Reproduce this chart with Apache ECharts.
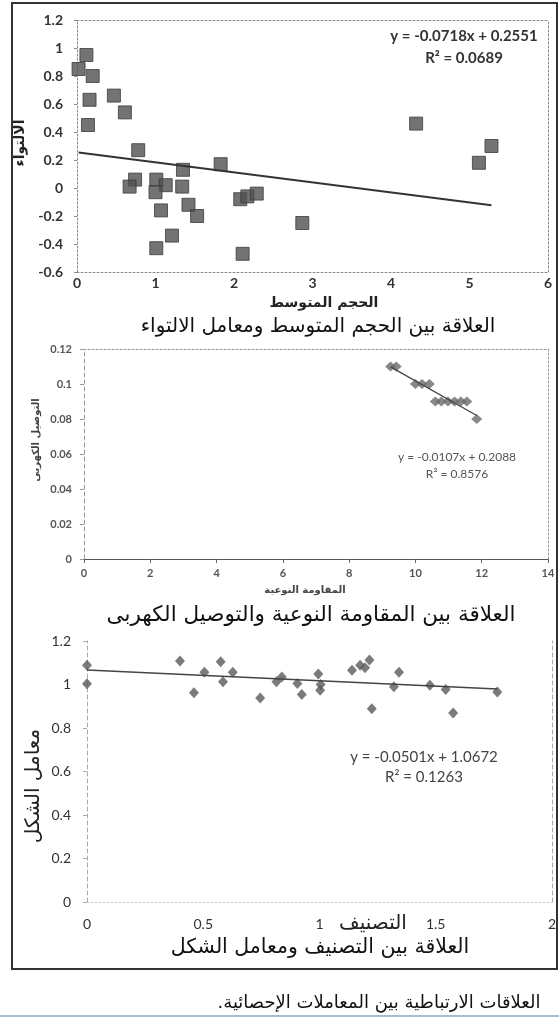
<!DOCTYPE html>
<html>
<head>
<meta charset="utf-8">
<script src="https://cdn.jsdelivr.net/npm/echarts@6/dist/echarts.min.js"></script>
<style>
html,body{margin:0;padding:0;background:#fff;}
#c{width:559px;height:1024px;}
</style>
</head>
<body>
<div id="c"></div>
<script>
// ---------- data ----------
// Chart 1: mean size vs skewness
const sizeX = [0.02,0.12,0.20,0.16,0.14,0.47,0.61,0.78,0.74,0.67,1.01,1.13,1.00,1.35,1.34,1.07,1.42,1.53,1.21,1.01,1.83,2.08,2.17,2.29,2.11,2.87,4.32,5.12,5.28];
const skewY = [0.85,0.95,0.80,0.63,0.45,0.66,0.54,0.27,0.06,0.01,0.06,0.02,-0.03,0.13,0.01,-0.16,-0.12,-0.20,-0.34,-0.43,0.17,-0.08,-0.06,-0.04,-0.47,-0.25,0.46,0.18,0.30];
const trend1X = [0.02,5.28];
const trend1Y = [0.254,-0.124];
const eq1 = ["y = -0.0718x + 0.2551","R\u00B2 = 0.0689"];

// Chart 2: resistivity vs conductivity
const resX  = [9.25,9.42,10.0,10.2,10.42,10.6,10.78,10.98,11.18,11.37,11.55,11.85];
const condY = [0.11,0.11,0.10,0.10,0.10,0.09,0.09,0.09,0.09,0.09,0.09,0.08];
const trend2X = [9.25,11.85];
const trend2Y = [0.1098,0.0820];
const eq2 = ["y = -0.0107x + 0.2088","R\u00B2 = 0.8576"];

// Chart 3: sorting vs shape factor
const sortX  = [0,0,0.40,0.46,0.505,0.575,0.585,0.627,0.745,0.815,0.838,0.905,0.924,0.995,1.003,1.005,1.14,1.175,1.196,1.215,1.225,1.32,1.342,1.475,1.543,1.575,1.765];
const shapeY = [1.088,1.004,1.108,0.962,1.056,1.105,1.013,1.056,0.938,1.013,1.035,1.005,0.954,1.048,0.973,1.0,1.066,1.088,1.077,1.113,0.888,0.99,1.056,0.996,0.977,0.869,0.966];
const trend3X = [0,1.765];
const trend3Y = [1.067,0.979];
const eq3 = ["y = -0.0501x + 1.0672","R\u00B2 = 0.1263"];

// tick settings
const ticks1 = {xMin:0,xMax:6,xStep:1,yMin:-0.6,yMax:1.2,yStep:0.2};
const ticks2 = {xMin:0,xMax:14,xStep:2,yMin:0,yMax:0.12,yStep:0.02};
const ticks3 = {xMin:0,xMax:2,xStep:0.5,yMin:0,yMax:1.2,yStep:0.2};

// texts
const sub1 = "العلاقة بين الحجم المتوسط ومعامل الالتواء";
const sub2 = "العلاقة بين المقاومة النوعية والتوصيل الكهربى";
const sub3 = "العلاقة بين التصنيف ومعامل الشكل";
const caption = "العلاقات الارتباطية بين المعاملات الإحصائية.";
const xName1 = "الحجم المتوسط", yName1 = "الالتواء";
const xName2 = "المقاومة النوعية", yName2 = "التوصيل الكهربى";
const xName3 = "التصنيف", yName3 = "معامل الشكل";

// ---------- helpers ----------
const zip = (a,b) => a.map((v,i)=>[v,b[i]]);
const rtl = s => "\u202B" + s + "\u202C";
const AR = "'DejaVu Sans', sans-serif";
const LAT = "Lato, 'Liberation Sans', sans-serif";

const grids = [
  {left:77, top:20,  width:471, height:252},
  {left:84, top:349, width:464, height:210},
  {left:87, top:641, width:465, height:261}
];

function mainX(gi,t,lbl,line,tick,margin){
  return {type:'value',gridIndex:gi,position:'bottom',min:t.xMin,max:t.xMax,interval:t.xStep,
    axisLine:line,axisTick:tick,splitLine:{show:false},
    axisLabel:Object.assign({margin:margin,fontFamily:LAT},lbl)};
}
function mainY(gi,t,lbl,line,tick,margin){
  return {type:'value',gridIndex:gi,position:'left',min:t.yMin,max:t.yMax,interval:t.yStep,
    axisLine:line,axisTick:tick,splitLine:{show:false},
    axisLabel:Object.assign({margin:margin,fontFamily:LAT},lbl)};
}
function borderX(gi,t,line){
  return {type:'value',gridIndex:gi,position:'top',min:t.xMin,max:t.xMax,interval:t.xStep,
    axisLine:line,axisTick:{show:false},axisLabel:{show:false},splitLine:{show:false}};
}
function borderY(gi,t,line){
  return {type:'value',gridIndex:gi,position:'right',min:t.yMin,max:t.yMax,interval:t.yStep,
    axisLine:line,axisTick:{show:false},axisLabel:{show:false},splitLine:{show:false}};
}
const dotted = (c,w)=>({show:true,onZero:false,lineStyle:{color:c,width:w||1,type:[2,2]}});
const dashed = (c,w)=>({show:true,onZero:false,lineStyle:{color:c,width:w||1,type:[4,3]}});

function txt(text,x,y,font,fill,align,rot){
  const el = {type:'text',x:x,y:y,silent:true,z:10,
    style:{text:text,font:font,fill:fill||'#222',textAlign:align||'center',textVerticalAlign:'middle'}};
  if(rot) el.rotation = rot;
  return el;
}

const chart = echarts.init(document.getElementById('c'),null,{renderer:'canvas'});

const option = {
  animation:false,
  backgroundColor:'#ffffff',
  grid: grids,
  xAxis: [
    mainX(0,ticks1,{fontSize:14,fontWeight:'bold',color:'#333'},dotted('#8a8a8a'),{show:false},4),
    mainX(1,ticks2,{fontSize:11,fontWeight:'bold',color:'#555'},{show:true,onZero:false,lineStyle:{color:'#555',width:1.2}},{show:true,length:4,lineStyle:{color:'#666'}},9),
    mainX(2,ticks3,{fontSize:14,color:'#333'},dotted('#cfcfcf'),{show:false},15),
    borderX(0,ticks1,dotted('#8a8a8a')),
    borderX(1,ticks2,dotted('#999')),
    borderX(2,ticks3,{show:false})
  ],
  yAxis: [
    mainY(0,ticks1,{fontSize:14,fontWeight:'bold',color:'#333'},dotted('#8a8a8a'),{show:true,length:3,lineStyle:{color:'#888'}},14),
    mainY(1,ticks2,{fontSize:11,fontWeight:'bold',color:'#555'},dashed('#9a9a9a'),{show:true,length:4,lineStyle:{color:'#999'}},12),
    mainY(2,ticks3,{fontSize:14,color:'#333'},dashed('#a8a8a8'),{show:true,length:4,lineStyle:{color:'#aaa'}},16),
    borderY(0,ticks1,dotted('#8a8a8a')),
    borderY(1,ticks2,dotted('#999')),
    borderY(2,ticks3,dashed('#aaa'))
  ],
  series: [
    {type:'line',xAxisIndex:0,yAxisIndex:0,data:zip(trend1X,trend1Y),symbol:'none',lineStyle:{color:'#333',width:2},z:3},
    {type:'scatter',xAxisIndex:0,yAxisIndex:0,data:zip(sizeX,skewY),symbol:'rect',symbolSize:13,
      itemStyle:{color:'#505050',borderColor:'#3c3c3c',borderWidth:1},z:2},
    {type:'line',xAxisIndex:1,yAxisIndex:1,data:zip(trend2X,trend2Y),symbol:'none',lineStyle:{color:'#444',width:1.3},z:3},
    {type:'scatter',xAxisIndex:1,yAxisIndex:1,data:zip(resX,condY),symbol:'diamond',symbolSize:[11,10],
      itemStyle:{color:'#6a6a6a'},z:2},
    {type:'line',xAxisIndex:2,yAxisIndex:2,data:zip(trend3X,trend3Y),symbol:'none',lineStyle:{color:'#444',width:1.5},z:3},
    {type:'scatter',xAxisIndex:2,yAxisIndex:2,data:zip(sortX,shapeY),symbol:'diamond',symbolSize:[10,11],
      itemStyle:{color:'#5a5a5a'},z:2}
  ],
  graphic: [
    {type:'rect',shape:{x:12,y:3,width:545,height:966},style:{fill:'none',stroke:'#333',lineWidth:2},silent:true},
    {type:'line',shape:{x1:0,y1:1016,x2:559,y2:1016},style:{stroke:'#a9bccb',lineWidth:2},silent:true},
    txt(eq1[0],464,36,"bold 15px "+LAT,'#333'),
    txt(eq1[1],464,58,"bold 15px "+LAT,'#333'),
    txt(rtl(xName1),324,303,"bold 14px "+AR,'#222'),
    txt(rtl(yName1),20,143,"bold 14px "+AR,'#222','center',Math.PI/2),
    txt(rtl(sub1),318,327,"20px "+AR,'#111'),
    txt(eq2[0],457,457,"12px "+LAT,'#555'),
    txt(eq2[1],457,474,"12px "+LAT,'#555'),
    txt(rtl(xName2),305,590,"bold 10px "+AR,'#444'),
    txt(rtl(yName2),36,440,"bold 10px "+AR,'#444','center',Math.PI/2),
    txt(rtl(sub2),311,615,"21.5px "+AR,'#111'),
    txt(eq3[0],424,757,"15px "+LAT,'#444'),
    txt(eq3[1],424,777,"15px "+LAT,'#444'),
    txt(rtl(xName3),373,924,"20px "+AR,'#222'),
    txt(rtl(yName3),34,786,"20px "+AR,'#222','center',Math.PI/2),
    txt(rtl(sub3),320,948,"20.5px "+AR,'#111'),
    txt(rtl(caption),379,1003,"18px "+AR,'#111')
  ]
};
chart.setOption(option);
</script>
</body>
</html>
